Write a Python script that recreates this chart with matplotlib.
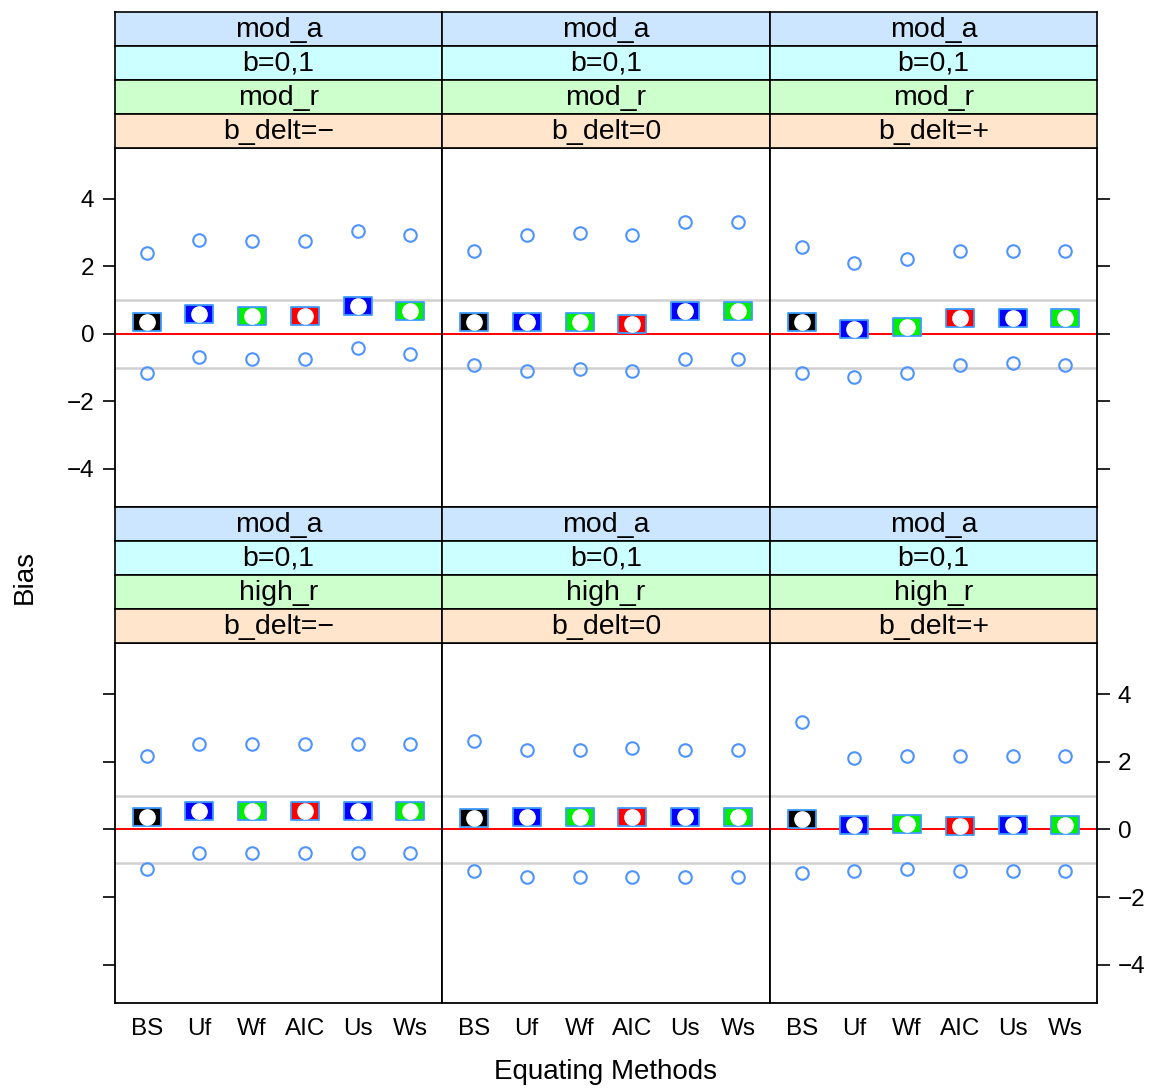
import matplotlib.pyplot as plt
import numpy as np
from matplotlib.path import Path

plt.rcParams['font.family'] = ['Liberation Sans', 'DejaVu Sans']

methods = ["BS", "Uf", "Wf", "AIC", "Us", "Ws"]
box_colors = ["black", "blue", "#00ee00", "red", "blue", "#00ee00"]

# panel order: top row left->right, then bottom row left->right
strip_labels = [
    ["mod_a", "b=0,1", "mod_r", "b_delt=\u2212"],
    ["mod_a", "b=0,1", "mod_r", "b_delt=0"],
    ["mod_a", "b=0,1", "mod_r", "b_delt=+"],
    ["mod_a", "b=0,1", "high_r", "b_delt=\u2212"],
    ["mod_a", "b=0,1", "high_r", "b_delt=0"],
    ["mod_a", "b=0,1", "high_r", "b_delt=+"],
]
upper = [
    [2.40, 2.78, 2.74, 2.74, 3.05, 2.94],
    [2.46, 2.93, 2.99, 2.93, 3.32, 3.32],
    [2.58, 2.10, 2.22, 2.46, 2.46, 2.46],
    [2.16, 2.52, 2.52, 2.52, 2.52, 2.52],
    [2.61, 2.34, 2.34, 2.40, 2.34, 2.34],
    [3.17, 2.10, 2.16, 2.16, 2.16, 2.16],
]
bias = [
    [0.36, 0.59, 0.53, 0.53, 0.83, 0.68],
    [0.36, 0.36, 0.36, 0.30, 0.68, 0.68],
    [0.36, 0.15, 0.21, 0.47, 0.47, 0.47],
    [0.36, 0.53, 0.53, 0.53, 0.53, 0.53],
    [0.33, 0.36, 0.36, 0.36, 0.36, 0.36],
    [0.30, 0.12, 0.15, 0.09, 0.12, 0.12],
]
lower = [
    [-1.16, -0.68, -0.74, -0.74, -0.41, -0.59],
    [-0.92, -1.10, -1.04, -1.10, -0.74, -0.74],
    [-1.16, -1.27, -1.16, -0.92, -0.86, -0.92],
    [-1.16, -0.71, -0.71, -0.71, -0.71, -0.71],
    [-1.24, -1.42, -1.42, -1.42, -1.42, -1.42],
    [-1.30, -1.24, -1.18, -1.24, -1.24, -1.24],
]
yticks = [-4, -2, 0, 2, 4]

strip_bg = ["#cce6ff", "#ccffff", "#ccffcc", "#ffe5cc"]  # top to bottom

W, H = 1156, 1088
fig = plt.figure(figsize=(W / 100, H / 100), dpi=100)


def fr(x0, y0, x1, y1):
    return [x0 / W, 1 - y1 / H, (x1 - x0) / W, (y1 - y0) / H]


col_x = [115, 442, 770, 1097]
row_strip_top = [12, 507]
row_plot = [(148, 507), (643, 1003)]
strip_h = 34

rect = Path([(-1, -0.64), (1, -0.64), (1, 0.64), (-1, 0.64), (-1, -0.64)],
            [Path.MOVETO, Path.LINETO, Path.LINETO, Path.LINETO, Path.CLOSEPOLY])

x = np.arange(1, len(methods) + 1)

for p in range(6):
    r, c = divmod(p, 3)
    x0, x1 = col_x[c], col_x[c + 1]
    y0, y1 = row_plot[r]
    ax = fig.add_axes(fr(x0, y0, x1, y1))
    ax.set_xlim(0.4, 6.6)
    ax.set_ylim(-5.13, 5.51)
    ax.axhline(1, color="#d0d0d0", lw=1.8, zorder=1)
    ax.axhline(-1, color="#d0d0d0", lw=1.8, zorder=1)
    ax.axhline(0, color="red", lw=1.4, zorder=2)
    ax.plot(x, upper[p], "o", ls="none", ms=9, mfc="none", mec="#4d94ff", mew=1.5, zorder=3)
    ax.plot(x, lower[p], "o", ls="none", ms=9, mfc="none", mec="#4d94ff", mew=1.5, zorder=3)
    for i in range(len(methods)):
        ax.plot(x[i], bias[p][i], marker=rect, ms=19.5, mfc=box_colors[i],
                mec="#3d9cff", mew=1.3, ls="none", zorder=4)
    ax.plot(x, bias[p], "o", ls="none", ms=11, mfc="white", mec="white", zorder=5)

    for s in ax.spines.values():
        s.set_linewidth(1.3)
    ax.set_yticks(yticks)
    ax.tick_params(axis="y", length=9, width=1.2, labelsize=17.5, pad=6, direction="out")
    if c == 0:
        ax.tick_params(axis="y", left=True, right=False, labelleft=(r == 0), labelright=False)
    elif c == 2:
        ax.tick_params(axis="y", left=False, right=True, labelleft=False, labelright=(r == 1))
    else:
        ax.tick_params(axis="y", left=False, right=False, labelleft=False)
    ax.set_xticks(x)
    if r == 1:
        ax.set_xticklabels(methods)
        ax.tick_params(axis="x", length=0, labelsize=17.5, pad=11)
    else:
        ax.tick_params(axis="x", length=0, labelbottom=False)

    # strips
    for k in range(4):
        sy0 = row_strip_top[r] + k * strip_h
        sax = fig.add_axes(fr(x0, sy0, x1, sy0 + strip_h))
        sax.set_facecolor(strip_bg[k])
        sax.set_xticks([])
        sax.set_yticks([])
        for s in sax.spines.values():
            s.set_linewidth(1.2)
        sax.text(0.5, 0.48, strip_labels[p][k], ha="center", va="center",
                 fontsize=20.5, transform=sax.transAxes)

fig.text(25 / W, 1 - 577 / H, "Bias", rotation=90, ha="center", va="center", fontsize=20)
fig.text(606 / W, 1 - 1072 / H, "Equating Methods", ha="center", va="center", fontsize=20)

fig.savefig("out.png", dpi=100)
